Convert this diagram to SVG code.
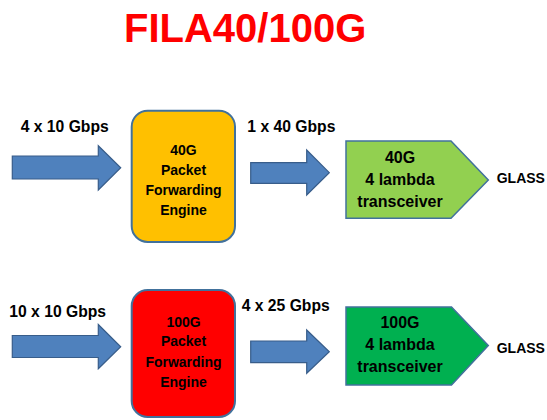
<svg xmlns="http://www.w3.org/2000/svg" width="547" height="420" viewBox="0 0 547 420">
  <style>
    text { font-family: "Liberation Sans", Arial, sans-serif; font-weight: bold; fill: #000; }
    .title { font-size: 40px; fill: #FF0000; }
    .lbl { font-size: 15.7px; }
    .eng { font-size: 14px; text-anchor: middle; }
    .trx { font-size: 16px; text-anchor: middle; }
    .glass { font-size: 14px; }
    .arrow { fill: #4F81BD; stroke: #385D8A; stroke-width: 1.2; stroke-linejoin: miter; }
    .box { stroke: #41719C; stroke-width: 2; }
    .pent { stroke: #41719C; stroke-width: 1.5; stroke-linejoin: miter; }
  </style>

  <rect width="547" height="420" fill="#FFFFFF"/>

  <text class="title" x="124" y="41.7">FILA40/100G</text>

  <!-- block arrows between stages -->
  <g id="connectors">
    <polygon class="arrow" points="12.3,156 98.3,156 98.3,145.7 120.7,167.7 98.3,190 98.3,179 12.3,179"/>
    <polygon class="arrow" points="250.7,162.7 306.7,162.7 306.7,150 329.3,172.7 306.7,195 306.7,183.3 250.7,183.3"/>
    <polygon class="arrow" points="12.3,335.5 98.3,335.5 98.3,324.5 120.7,346.7 98.3,368.8 98.3,357.5 12.3,357.5"/>
    <polygon class="arrow" points="250.7,341 306.7,341 306.7,330 329.3,351.7 306.7,373.3 306.7,362.7 250.7,362.7"/>
    <text class="lbl" x="20.7" y="132.3">4 x 10 Gbps</text>
    <text class="lbl" x="247.3" y="131.7">1 x 40 Gbps</text>
    <text class="lbl" x="9.3" y="316.7">10 x 10 Gbps</text>
    <text class="lbl" x="241.7" y="310.7">4 x 25 Gbps</text>
  </g>

  <!-- 40G row -->
  <g id="engine40">
    <rect class="box" x="131.7" y="110.7" width="103.3" height="131.3" rx="16" fill="#FFC000"/>
    <text class="eng" x="183.5" y="155">40G</text>
    <text class="eng" x="183.5" y="175">Packet</text>
    <text class="eng" x="183.5" y="195">Forwarding</text>
    <text class="eng" x="183.5" y="215">Engine</text>
  </g>

  <g id="transceiver40">
    <polygon class="pent" points="346,141 451,141 488.3,180 451,218.3 346,218.3" fill="#92D050"/>
    <text class="trx" x="400" y="163.3">40G</text>
    <text class="trx" x="400" y="185">4 lambda</text>
    <text class="trx" x="400" y="207.3">transceiver</text>
  </g>

  <g id="glass40">
    <text class="glass" x="496.7" y="183.3">GLASS</text>
  </g>

  <!-- 100G row -->
  <g id="engine100">
    <rect class="box" x="131.7" y="290" width="103.3" height="127" rx="16" fill="#FF0000"/>
    <text class="eng" x="183.5" y="327">100G</text>
    <text class="eng" x="183.5" y="346">Packet</text>
    <text class="eng" x="183.5" y="366.5">Forwarding</text>
    <text class="eng" x="183.5" y="386.7">Engine</text>
  </g>

  <g id="transceiver100">
    <polygon class="pent" points="346,307 451.5,307 488.3,345.5 451.5,385 346,385" fill="#00B050"/>
    <text class="trx" x="400" y="327.7">100G</text>
    <text class="trx" x="400" y="350">4 lambda</text>
    <text class="trx" x="400" y="371.7">transceiver</text>
  </g>

  <g id="glass100">
    <text class="glass" x="496.7" y="352.7">GLASS</text>
  </g>
</svg>
